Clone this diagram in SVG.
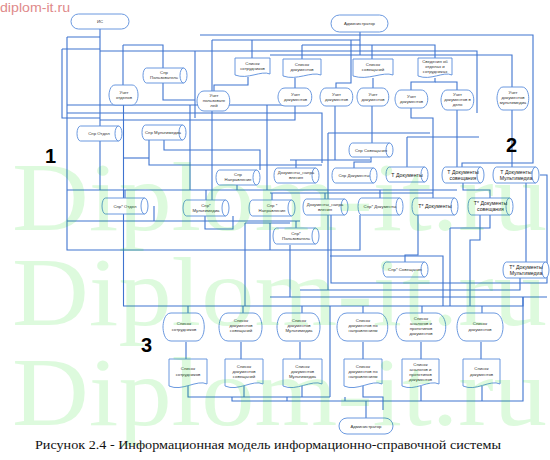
<svg xmlns="http://www.w3.org/2000/svg" width="550" height="460" viewBox="0 0 550 460">
<style>
.ln{fill:none;stroke:#3f74cf;stroke-width:1.1}
.nd{fill:#fff;stroke:#5a8ddb;stroke-width:0.9}
.t{font-family:"Liberation Sans",Arial,sans-serif;font-size:4.3px;fill:#333;text-anchor:middle}
.tb{font-family:"Liberation Sans",Arial,sans-serif;font-size:5.2px;fill:#222;text-anchor:middle}
.num{font-family:"Liberation Sans",Arial,sans-serif;font-size:20px;font-weight:bold;fill:#000}
.wm{font-family:"Liberation Serif","Times New Roman",serif;font-size:98px;fill:#00dd00;opacity:0.13}
</style>
<rect width="550" height="460" fill="#fff"/>
<text x="0" y="12" textLength="70" lengthAdjust="spacingAndGlyphs" style="font-family:'Liberation Sans',Arial,sans-serif;font-size:13px;fill:#e08a8a">diplom-it.ru</text>

<g id="connectors" class="ln">
<path d="M100,29 V190"/>
<path d="M67,37 H100"/>
<path d="M62,49 H100"/>
<path d="M62,49 V118 H100"/>
<path d="M67,37 V250 H360 V215"/>
<path d="M100,51 H477 V113"/>
<path d="M123,45 H163 V100 H195"/>
<path d="M123,45 V85"/>
<path d="M195,51 V118"/>
<path d="M212,40 V200"/>
<path d="M212,40 H360"/>
<path d="M360,32 V55"/>
<path d="M200,35 H533 V163 H462 V167"/>
<path d="M252,40 V58"/>
<path d="M248,77 V85 H214 V91"/>
<path d="M302,45 H435 V58"/>
<path d="M302,45 V59"/>
<path d="M372,45 V59"/>
<path d="M295,78 V88"/>
<path d="M373,78 V88"/>
<path d="M336,88 V83 H351 V40"/>
<path d="M435,78 V82 H411 V90"/>
<path d="M435,82 H457 V90"/>
<path d="M270,55 H512 V87"/>
<path d="M67,105 H290"/>
<path d="M67,113 H322 V163"/>
<path d="M100,120 H295 V106"/>
<path d="M123.5,105 V306 H523 V297"/>
<path d="M149,140 V165 H322"/>
<path d="M124,158 H149"/>
<path d="M190,105 V190"/>
<path d="M237,185 V190"/>
<path d="M67,190 H457"/>
<path d="M267,105 V190"/>
<path d="M164,140 V150 H260 V170"/>
<path d="M335,106 V160"/>
<path d="M290,160 H370"/>
<path d="M296,160 V168"/>
<path d="M372,106 V143"/>
<path d="M411,108 V118 H433 V198"/>
<path d="M457,110 V167"/>
<path d="M512,110 V167"/>
<path d="M328,133 H430"/>
<path d="M328,133 V290"/>
<path d="M407,137 H479"/>
<path d="M407,137 V167"/>
<path d="M371,157 V162 H354 V168"/>
<path d="M270,193 H433"/>
<path d="M125,190 V198"/>
<path d="M206,190 V200"/>
<path d="M272,193 V200"/>
<path d="M325,193 V199"/>
<path d="M380,190 V198"/>
<path d="M463,183 V190 H490 V198"/>
<path d="M526,183 V262"/>
<path d="M540,175 H547 V283 H331 V215"/>
<path d="M67,221 H300"/>
<path d="M296,221 V228"/>
<path d="M418,215 V255 H405 V262"/>
<path d="M205,216 V229 H233 V216"/>
<path d="M245,223 H290"/>
<path d="M245,223 V306"/>
<path d="M270,223 V250"/>
<path d="M154,206 V221"/>
<path d="M330,256 H443 V306"/>
<path d="M450,228 H490 V215"/>
<path d="M450,228 V306"/>
<path d="M480,215 V240 H470 V306"/>
<path d="M300,290 H520 V278"/>
<path d="M270,297 H547"/>
<path d="M290,245 V297"/>
<path d="M188,306 V313"/>
<path d="M243,306 V313"/>
<path d="M302,306 V313"/>
<path d="M363,306 V313"/>
<path d="M422,306 V313"/>
<path d="M482,306 V313"/>
<path d="M186,342 V359"/>
<path d="M241,342 V359"/>
<path d="M300,342 V359"/>
<path d="M363,342 V359"/>
<path d="M421,342 V359"/>
<path d="M481,342 V359"/>
<path d="M188,386 V397 H330"/>
<path d="M244,386 V397"/>
<path d="M302,386 V397"/>
<path d="M330,306 V397"/>
<path d="M363,386 V397 H383 V410"/>
<path d="M421,386 V401"/>
<path d="M482,386 V401"/>
<path d="M232,397 V401 H523 V297"/>
<path d="M287,397 V401"/>
<path d="M345,397 V401"/>
<path d="M366,401 V418"/>
</g>

<g id="n-is"><rect class="nd" x="71" y="14" width="58" height="15" rx="7.5"/><text class="t" x="100" y="23">ИС</text></g>
<g id="n-admin-top"><rect class="nd" x="331" y="15" width="57" height="17" rx="8.5"/><text class="t" x="359.5" y="25">Администратор</text></g>
<g id="n-admin-bottom"><rect class="nd" x="339" y="418" width="54" height="16" rx="8"/><text class="t" x="366" y="427.5">Администратор</text></g>

<g id="d-sotr"><path class="nd" d="M235,58 H270 V74 C261,70 248,80 235,75 Z"/><text class="t" x="252.5" y="65">Список</text><text class="t" x="252.5" y="70">сотрудников</text></g>
<g id="d-doc"><path class="nd" d="M283,59 H321 V75 C311,71 297,81 283,76 Z"/><text class="t" x="302" y="66">Список</text><text class="t" x="302" y="71">документов</text></g>
<g id="d-sov"><path class="nd" d="M353,59 H393 V75 C383,71 368,81 353,76 Z"/><text class="t" x="373" y="66">Список</text><text class="t" x="373" y="71">совещаний</text></g>
<g id="d-sved"><path class="nd" d="M418,58 H452 V75 C443,71 431,81 418,76 Z"/><text class="t" x="435" y="63">Сведения об</text><text class="t" x="435" y="68">отделах и</text><text class="t" x="435" y="73">сотрудниках</text></g>

<g id="p-otd"><path class="nd" d="M115,85 H132 C140,85 140,105 132,105 H115 C110,105 109,97 109,95 C109,93 110,85 115,85 Z"/><text class="t" x="124" y="94">Учет</text><text class="t" x="124" y="99">отделов</text></g>
<g id="p-polz"><path class="nd" d="M204,91 H223 C232,91 232,111 223,111 H204 C198,111 197,103 197,101 C197,99 198,91 204,91 Z"/><text class="t" x="214" y="97">Учет</text><text class="t" x="214" y="102">пользовате</text><text class="t" x="214" y="107">лей</text></g>
<g id="p-doc1"><path class="nd" d="M285,88 H305 C314,88 314,106 305,106 H285 C279,106 278,99 278,97 C278,95 279,88 285,88 Z"/><text class="t" x="295.5" y="96">Учет</text><text class="t" x="295.5" y="101">документов</text></g>
<g id="p-doc2"><path class="nd" d="M326,88 H346 C355,88 355,106 346,106 H326 C321,106 320,99 320,97 C320,95 321,88 326,88 Z"/><text class="t" x="336.5" y="96">Учет</text><text class="t" x="336.5" y="101">документов</text></g>
<g id="p-doc3"><path class="nd" d="M363,88 H382 C391,88 391,106 382,106 H363 C358,106 357,99 357,97 C357,95 358,88 363,88 Z"/><text class="t" x="373" y="96">Учет</text><text class="t" x="373" y="101">документов</text></g>
<g id="p-doc4"><path class="nd" d="M401,90 H421 C430,90 430,108 421,108 H401 C396,108 395,101 395,99 C395,97 396,90 401,90 Z"/><text class="t" x="411.5" y="98">Учет</text><text class="t" x="411.5" y="103">документов</text></g>
<g id="p-delo"><path class="nd" d="M447,90 H467 C476,90 476,110 467,110 H447 C442,110 441,102 441,100 C441,98 442,90 447,90 Z"/><text class="t" x="457.5" y="96">Учет</text><text class="t" x="457.5" y="101">документов в</text><text class="t" x="457.5" y="106">дело</text></g>
<g id="p-mult"><path class="nd" d="M503,87 H522 C531,87 531,110 522,110 H503 C498,110 497,100 497,98 C497,96 498,87 503,87 Z"/><text class="t" x="513" y="94">Учет</text><text class="t" x="513" y="99">документов</text><text class="t" x="513" y="104">мультимедиа</text></g>

<g id="c-spr-polz"><path class="nd" d="M146.5,68 H183.5 A3.5,7.5 0 0 1 183.5,83 H146.5 A3.5,7.5 0 0 1 146.5,68 Z M183.5,68 A3.5,7.5 0 0 0 183.5,83"/><text class="t" x="164" y="74">Спр</text><text class="t" x="164" y="79">Пользователь</text></g>
<g id="c-spr-otd"><path class="nd" d="M80.5,126 H118.5 A3.5,7.5 0 0 1 118.5,141 H80.5 A3.5,7.5 0 0 1 80.5,126 Z M118.5,126 A3.5,7.5 0 0 0 118.5,141"/><text class="t" x="99" y="135">Спр Отдел</text></g>
<g id="c-spr-mult"><path class="nd" d="M145.5,125 H182.5 A3.5,7.5 0 0 1 182.5,140 H145.5 A3.5,7.5 0 0 1 145.5,125 Z M182.5,125 A3.5,7.5 0 0 0 182.5,140"/><text class="t" x="163" y="134">Спр Мультимедиа</text></g>
<g id="c-spr-napr"><path class="nd" d="M219.5,170 H256.5 A3.5,7.5 0 0 1 256.5,185 H219.5 A3.5,7.5 0 0 1 219.5,170 Z M256.5,170 A3.5,7.5 0 0 0 256.5,185"/><text class="t" x="238" y="176">Спр</text><text class="t" x="238" y="181">Направления</text></g>
<g id="c-doc-napr"><path class="nd" d="M277.5,168 H315.5 A3.5,7.5 0 0 1 315.5,183 H277.5 A3.5,7.5 0 0 1 277.5,168 Z M315.5,168 A3.5,7.5 0 0 0 315.5,183"/><text class="t" x="296" y="174">Документы_напра</text><text class="t" x="296" y="179">вления</text></g>
<g id="c-spr-doc"><path class="nd" d="M335.5,168 H373.5 A3.5,7.5 0 0 1 373.5,183 H335.5 A3.5,7.5 0 0 1 335.5,168 Z M373.5,168 A3.5,7.5 0 0 0 373.5,183"/><text class="t" x="354" y="177">Спр Документы</text></g>
<g id="c-spr-sov"><path class="nd" d="M352.5,143 H389.5 A3.5,7 0 0 1 389.5,157 H352.5 A3.5,7 0 0 1 352.5,143 Z M389.5,143 A3.5,7 0 0 0 389.5,157"/><text class="t" x="371" y="151.5">Спр Совещания</text></g>
<g id="c-t-doc"><path class="nd" d="M389.5,167 H424.5 A3.5,7.5 0 0 1 424.5,182 H389.5 A3.5,7.5 0 0 1 389.5,167 Z M424.5,167 A3.5,7.5 0 0 0 424.5,182"/><text class="tb" x="407" y="176.5">Т Документы</text></g>
<g id="c-t-sov"><path class="nd" d="M445.5,167 H480.5 A3.5,8 0 0 1 480.5,183 H445.5 A3.5,8 0 0 1 445.5,167 Z M480.5,167 A3.5,8 0 0 0 480.5,183"/><text class="tb" x="463" y="174">Т Документы</text><text class="tb" x="463" y="180">совещания</text></g>
<g id="c-t-mult"><path class="nd" d="M496.5,167 H535.5 A3.5,8 0 0 1 535.5,183 H496.5 A3.5,8 0 0 1 496.5,167 Z M535.5,167 A3.5,8 0 0 0 535.5,183"/><text class="tb" x="516" y="174">Т Документы</text><text class="tb" x="516" y="180">Мультимедиа</text></g>
<g id="c-spr2-otd"><path class="nd" d="M105.5,198 H144.5 A3.5,8 0 0 1 144.5,214 H105.5 A3.5,8 0 0 1 105.5,198 Z M144.5,198 A3.5,8 0 0 0 144.5,214"/><text class="t" x="125" y="207.5">Спр* Отдел</text></g>
<g id="c-spr2-mult"><path class="nd" d="M186.5,200 H225.5 A3.5,8 0 0 1 225.5,216 H186.5 A3.5,8 0 0 1 186.5,200 Z M225.5,200 A3.5,8 0 0 0 225.5,216"/><text class="t" x="206" y="206.5">Спр*</text><text class="t" x="206" y="211.5">Мультимедиа</text></g>
<g id="c-spr2-napr"><path class="nd" d="M252.5,200 H291.5 A3.5,8 0 0 1 291.5,216 H252.5 A3.5,8 0 0 1 252.5,200 Z M291.5,200 A3.5,8 0 0 0 291.5,216"/><text class="t" x="272" y="206.5">Спр *</text><text class="t" x="272" y="211.5">Направления</text></g>
<g id="c-doc2-napr"><path class="nd" d="M306.5,199 H344.5 A3.5,8 0 0 1 344.5,215 H306.5 A3.5,8 0 0 1 306.5,199 Z M344.5,199 A3.5,8 0 0 0 344.5,215"/><text class="t" x="325" y="205.5">Документы_напра</text><text class="t" x="325" y="210.5">вления</text></g>
<g id="c-spr2-doc"><path class="nd" d="M361.5,198 H399.5 A3.5,8.5 0 0 1 399.5,215 H361.5 A3.5,8.5 0 0 1 361.5,198 Z M399.5,198 A3.5,8.5 0 0 0 399.5,215"/><text class="t" x="380" y="207.5">Спр* Документы</text></g>
<g id="c-t2-doc"><path class="nd" d="M415.5,198 H454.5 A3.5,8.5 0 0 1 454.5,215 H415.5 A3.5,8.5 0 0 1 415.5,198 Z M454.5,198 A3.5,8.5 0 0 0 454.5,215"/><text class="tb" x="435" y="208">Т* Документы</text></g>
<g id="c-t2-sov"><path class="nd" d="M471.5,198 H509.5 A3.5,8.5 0 0 1 509.5,215 H471.5 A3.5,8.5 0 0 1 471.5,198 Z M509.5,198 A3.5,8.5 0 0 0 509.5,215"/><text class="tb" x="490.5" y="205">Т* Документы</text><text class="tb" x="490.5" y="211">совещания</text></g>
<g id="c-spr2-polz"><path class="nd" d="M276.5,228 H315.5 A3.5,8 0 0 1 315.5,244 H276.5 A3.5,8 0 0 1 276.5,228 Z M315.5,228 A3.5,8 0 0 0 315.5,244"/><text class="t" x="296" y="234.5">Спр*</text><text class="t" x="296" y="239.5">Пользователь</text></g>
<g id="c-spr2-sov"><path class="nd" d="M386.5,262 H424.5 A3.5,7.5 0 0 1 424.5,277 H386.5 A3.5,7.5 0 0 1 386.5,262 Z M424.5,262 A3.5,7.5 0 0 0 424.5,277"/><text class="t" x="405" y="271">Спр* Совещания</text></g>
<g id="c-t2-mult"><path class="nd" d="M506.5,262 H545.5 A3.5,8 0 0 1 545.5,278 H506.5 A3.5,8 0 0 1 506.5,262 Z M545.5,262 A3.5,8 0 0 0 545.5,278"/><text class="tb" x="526" y="269">Т* Документы</text><text class="tb" x="526" y="275">Мультимедиа</text></g>

<g id="p-l-sotr"><path class="nd" d="M171,313 H196 C207,313 207,341 196,341 H171 C164,341 163,330 163,327 C163,324 164,313 171,313 Z"/><text class="t" x="184" y="325">Список</text><text class="t" x="184" y="331">сотрудников</text></g>
<g id="p-l-sov"><path class="nd" d="M228,313 H253 C265,313 265,341 253,341 H228 C220,341 219,330 219,327 C219,324 220,313 228,313 Z"/><text class="t" x="241" y="322">Список</text><text class="t" x="241" y="327">документов</text><text class="t" x="241" y="332">совещаний</text></g>
<g id="p-l-mult"><path class="nd" d="M286,313 H311 C323,313 323,341 311,341 H286 C278,341 277,330 277,327 C277,324 278,313 286,313 Z"/><text class="t" x="299" y="322">Список</text><text class="t" x="299" y="327">документов</text><text class="t" x="299" y="332">Мультимедиа</text></g>
<g id="p-l-napr"><path class="nd" d="M347,313 H378 C391,313 391,341 378,341 H347 C338,341 337,330 337,327 C337,324 338,313 347,313 Z"/><text class="t" x="363" y="322">Список</text><text class="t" x="363" y="327">документов по</text><text class="t" x="363" y="332">направлениям</text></g>
<g id="p-l-anal"><path class="nd" d="M406,313 H436 C449,313 449,341 436,341 H406 C397,341 396,330 396,327 C396,324 397,313 406,313 Z"/><text class="t" x="421" y="320">Список</text><text class="t" x="421" y="325">аналогов и</text><text class="t" x="421" y="330">прототипов</text><text class="t" x="421" y="335">документов</text></g>
<g id="p-l-doc"><path class="nd" d="M466,313 H494 C506,313 506,341 494,341 H466 C458,341 457,330 457,327 C457,324 458,313 466,313 Z"/><text class="t" x="480" y="325">Список</text><text class="t" x="480" y="331">документов</text></g>

<g id="d-l-sotr"><path class="nd" d="M169,359 H207 V384 C197,379 182,392 169,386 Z"/><text class="t" x="188" y="370">Список</text><text class="t" x="188" y="376">сотрудников</text></g>
<g id="d-l-sov"><path class="nd" d="M225,359 H263 V384 C253,379 238,392 225,386 Z"/><text class="t" x="244" y="368">Список</text><text class="t" x="244" y="373">документов</text><text class="t" x="244" y="378">совещаний</text></g>
<g id="d-l-mult"><path class="nd" d="M283,359 H322 V384 C312,379 296,392 283,386 Z"/><text class="t" x="302.5" y="368">Список</text><text class="t" x="302.5" y="373">документов</text><text class="t" x="302.5" y="378">Мультимедиа</text></g>
<g id="d-l-napr"><path class="nd" d="M344,359 H382 V384 C372,379 357,392 344,386 Z"/><text class="t" x="363" y="368">Список</text><text class="t" x="363" y="373">документов по</text><text class="t" x="363" y="378">направлениям</text></g>
<g id="d-l-anal"><path class="nd" d="M402,359 H439 V384 C429,379 415,392 402,386 Z"/><text class="t" x="420.5" y="366">Список</text><text class="t" x="420.5" y="371">аналогов и</text><text class="t" x="420.5" y="376">прототипов</text><text class="t" x="420.5" y="381">документов</text></g>
<g id="d-l-doc"><path class="nd" d="M463,359 H500 V384 C490,379 476,392 463,386 Z"/><text class="t" x="481.5" y="370">Список</text><text class="t" x="481.5" y="376">документов</text></g>

<text class="num" x="45" y="163">1</text>
<text class="num" x="506" y="152">2</text>
<text class="num" x="141" y="352">3</text>

<g id="watermark">
<text class="wm" x="12" y="230" textLength="535" lengthAdjust="spacingAndGlyphs">Diplom-it.ru</text>
<text class="wm" x="12" y="325" textLength="535" lengthAdjust="spacingAndGlyphs">Diplom-it.ru</text>
<text class="wm" x="12" y="425" textLength="535" lengthAdjust="spacingAndGlyphs">Diplom-it.ru</text>
</g>

<text x="268" y="449" text-anchor="middle" textLength="466" lengthAdjust="spacingAndGlyphs" style="font-family:'Liberation Serif','Times New Roman',serif;font-size:12.5px;fill:#111">Рисунок 2.4 - Информационная модель информационно-справочной системы</text>
</svg>
